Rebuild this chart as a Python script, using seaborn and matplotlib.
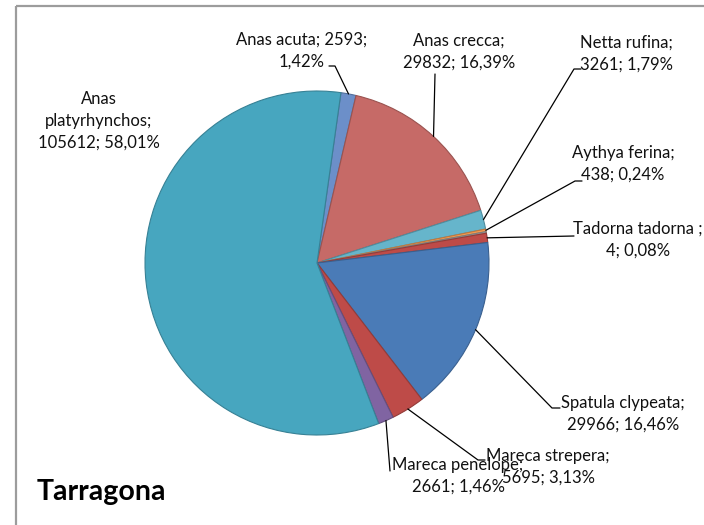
import numpy as np
import matplotlib
matplotlib.use("Agg")
import matplotlib.pyplot as plt
import matplotlib.patches as mpatches
import seaborn as sns

# slice order, clockwise from just right of 12 o'clock
species = ["Anas acuta", "Anas crecca", "Netta rufina", "Aythya ferina", "Otras",
           "Tadorna tadorna", "Spatula clypeata", "Mareca strepera",
           "Mareca penelope", "Anas platyrhynchos"]
# slice sizes (%) as drawn
shares = [1.42, 16.39, 1.79, 0.24, 0.15, 0.87, 16.46, 3.13, 1.46, 58.01]
labels = ["Anas acuta; 2593;\n1,42%",
          "Anas crecca;\n29832; 16,39%",
          "Netta rufina;\n3261; 1,79%",
          "Aythya ferina;\n438; 0,24%",
          None,
          "Tadorna tadorna ;\n4; 0,08%",
          "Spatula clypeata;\n29966; 16,46%",
          "Mareca strepera;\n5695; 3,13%",
          "Mareca penelope;\n2661; 1,46%",
          "Anas\nplatyrhynchos;\n105612; 58,01%"]
colors = ["#6C8FC9", "#C66A67", "#66B5CB", "#F59B50", "#A0A0A0",
          "#BE4B48", "#4A7BB7", "#BE4B48", "#8064A2", "#47A6BF"]

# label placement in pixel space: text centre, leader path after the pie edge
label_pos = [(302, 51), (459, 52), (626, 54), (623, 164), None,
             (638, 240), (623, 414), (548, 467), (458, 476), (99, 121)]
leader = [[(335, 66), (329, 66)],
          [(435, 74)],
          [(574, 69), (581, 69)],
          [(575, 181), (582, 181)],
          None,
          [(574, 236)],
          [(552, 408), (560, 408)],
          [(478, 460), (485, 460)],
          [(390, 471)],
          None]

sns.set_theme(style="white")
plt.rcParams["font.family"] = ["Lato", "DejaVu Sans"]

fig = plt.figure(figsize=(7.04, 5.25), dpi=100)
ax = fig.add_axes([0, 0, 1, 1])

cx, cy, r = 317, 263, 172
pal = sns.color_palette(colors)
wedges, _ = ax.pie(shares, colors=pal, startangle=-82, counterclock=True,
                   center=(cx, cy), radius=r, frame=True,
                   wedgeprops=dict(linewidth=0.8))
for w, c in zip(wedges, pal):
    w.set_edgecolor(tuple(np.array(c) * 0.78))
ax.set_xlim(0, 704)
ax.set_ylim(525, 0)
ax.set_aspect("equal")
ax.axis("off")

for w, lab, pos, path in zip(wedges, labels, label_pos, leader):
    if lab is None:
        continue
    ax.text(pos[0], pos[1], lab, ha="center", va="center", fontsize=12,
            linespacing=1.45, color="#111111")
    if path is None:
        continue
    th = np.deg2rad((w.theta1 + w.theta2) / 2)
    pts = [(cx + r * np.cos(th), cy + r * np.sin(th))] + path
    xs, ys = zip(*pts)
    ax.plot(xs, ys, color="black", lw=0.9)

ax.text(37, 492, "Tarragona", ha="left", va="center", fontsize=20.5,
        fontweight="bold", color="black")

# chart area frame (only top and left edges are visible)
ax.add_patch(mpatches.Rectangle((16, 6), 720, 540, fill=False,
                                edgecolor="#9C9C9C", lw=1.6, clip_on=False))

fig.savefig("out.png", dpi=100)
